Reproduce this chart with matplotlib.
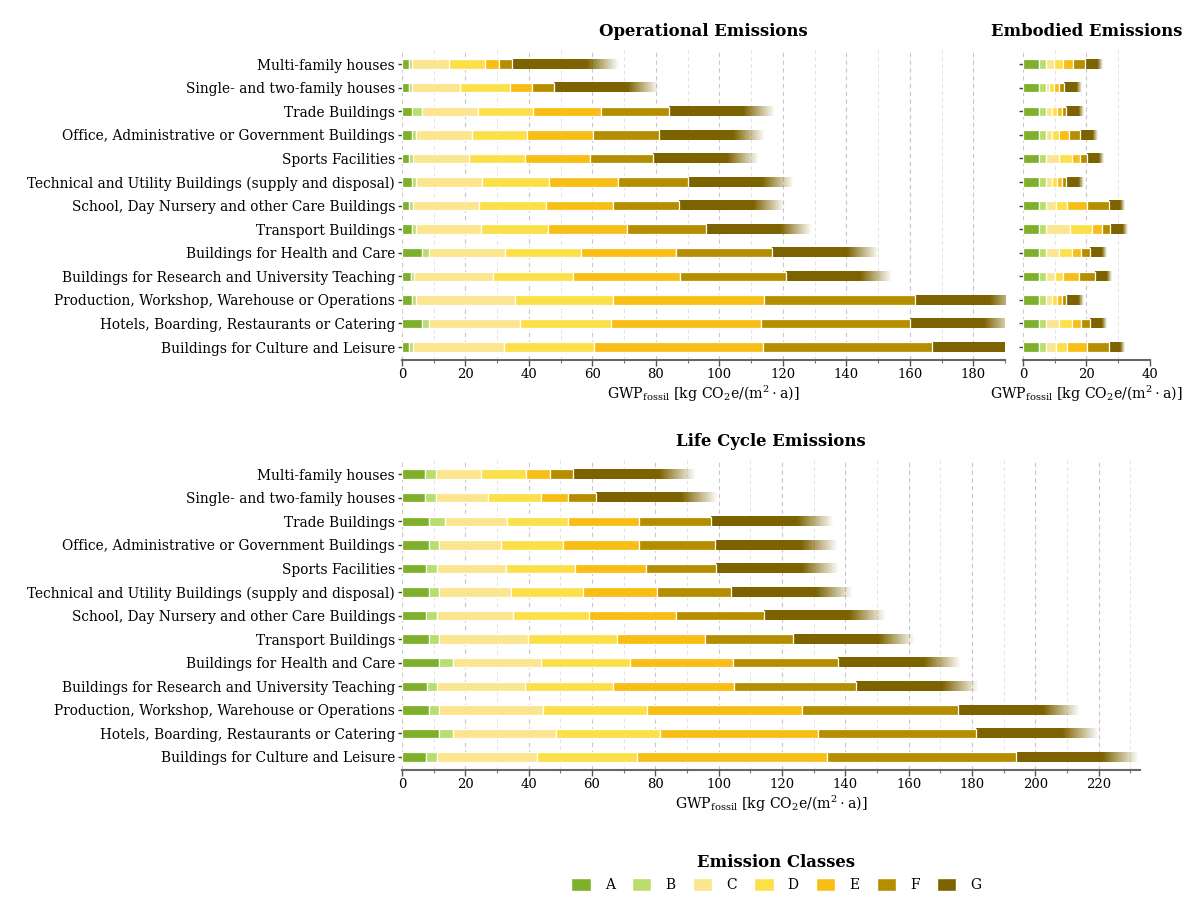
import numpy as np
import matplotlib
matplotlib.use('Agg')
import matplotlib.pyplot as plt
from matplotlib.patches import Patch
from matplotlib.colors import to_rgb

plt.rcParams['font.family'] = ['DejaVu Serif']
plt.rcParams['mathtext.fontset'] = 'dejavuserif'

buildings = [
    'Multi-family houses',
    'Single- and two-family houses',
    'Trade Buildings',
    'Office, Administrative or Government Buildings',
    'Sports Facilities',
    'Technical and Utility Buildings (supply and disposal)',
    'School, Day Nursery and other Care Buildings',
    'Transport Buildings',
    'Buildings for Health and Care',
    'Buildings for Research and University Teaching',
    'Production, Workshop, Warehouse or Operations',
    'Hotels, Boarding, Restaurants or Catering',
    'Buildings for Culture and Leisure',
]
classes = ['A', 'B', 'C', 'D', 'E', 'F', 'G']
colors = ['#7fb02c', '#b9dd6e', '#fbe58e', '#fce04a', '#f9be15', '#b58e00', '#7d6300']

# width of each class segment, one list per class (rows in order of buildings)
operational = [
    [2.1, 2.1, 3.1, 3.3, 2.3, 3.3, 2.3, 3.3, 6.4, 2.7, 3.3, 6.4, 2.3],
    [1.0, 1.0, 3.3, 1.1, 1.1, 1.1, 1.1, 1.1, 2.2, 1.2, 1.1, 2.2, 1.1],
    [11.6, 15.3, 17.4, 17.6, 17.8, 20.9, 21.0, 20.6, 23.8, 24.9, 31.1, 28.6, 28.6],
    [11.6, 15.5, 17.4, 17.4, 17.7, 21.0, 20.9, 21.0, 23.9, 25.1, 31.0, 28.7, 28.5],
    [4.3, 7.1, 21.4, 20.7, 20.2, 21.8, 21.1, 24.8, 30.1, 33.6, 47.6, 47.1, 53.4],
    [4.1, 7.0, 21.4, 20.8, 20.0, 22.0, 21.0, 25.0, 30.2, 33.6, 47.5, 47.1, 53.2],
    [33.4, 33.0, 33.2, 33.2, 33.2, 33.2, 33.2, 33.3, 33.5, 33.3, 33.4, 33.2, 33.7],
]
embodied = [
    [5.1, 5.1, 5.1, 5.1, 5.1, 5.1, 5.1, 5.1, 5.1, 5.1, 5.1, 5.1, 5.1],
    [2.1, 2.1, 2.1, 2.1, 2.1, 2.1, 2.1, 2.1, 2.1, 2.1, 2.1, 2.1, 2.1],
    [2.7, 1.1, 2.0, 2.0, 4.2, 2.0, 3.3, 7.6, 4.2, 2.8, 2.0, 4.2, 3.3],
    [2.7, 1.6, 1.6, 2.1, 4.0, 1.6, 3.4, 7.0, 4.0, 2.6, 1.6, 4.0, 3.4],
    [3.3, 1.5, 1.4, 3.2, 2.5, 1.4, 6.4, 3.0, 2.9, 4.9, 1.4, 2.9, 6.4],
    [3.5, 1.6, 1.5, 3.4, 2.3, 1.5, 6.7, 2.7, 2.9, 5.1, 1.5, 2.9, 6.7],
    [5.5, 5.4, 5.4, 5.4, 5.2, 5.4, 5.0, 5.4, 5.3, 5.1, 5.4, 5.3, 5.0],
]
life_cycle = [
    [7.3, 7.3, 8.5, 8.5, 7.6, 8.5, 7.6, 8.5, 11.6, 7.9, 8.5, 11.6, 7.6],
    [3.3, 3.3, 5.2, 3.3, 3.3, 3.3, 3.3, 3.3, 4.4, 3.3, 3.3, 4.4, 3.3],
    [14.2, 16.6, 19.4, 19.5, 22.0, 22.6, 24.0, 28.1, 28.0, 27.6, 32.8, 32.6, 31.7],
    [14.3, 16.6, 19.2, 19.6, 21.8, 22.9, 24.2, 28.1, 27.9, 27.7, 32.7, 32.8, 31.6],
    [7.6, 8.6, 22.6, 24.0, 22.2, 23.2, 27.5, 27.6, 32.6, 38.3, 49.0, 49.9, 59.9],
    [7.4, 8.8, 22.8, 24.0, 22.3, 23.3, 27.6, 27.8, 33.1, 38.4, 49.1, 49.8, 59.9],
    [38.8, 38.5, 38.6, 38.6, 38.7, 38.3, 38.5, 38.5, 38.7, 38.7, 38.5, 38.7, 38.8],
]

xlabel = r'GWP$_{\mathrm{fossil}}$ [kg CO$_2$e/(m$^2\cdot$a)]'
bar_h = 0.4


def fade_image(color):
    # solid for the first 70 %, then fades out to the right
    r, g, b = to_rgb(color)
    img = np.zeros((1, 200, 4))
    img[0, :, 0] = r
    img[0, :, 1] = g
    img[0, :, 2] = b
    img[0, :140, 3] = 1.0
    img[0, 140:, 3] = np.linspace(1, 0, 60)
    return img


def draw_panel(ax, values, xmax, title, show_labels=True):
    y = np.arange(len(buildings))
    left = np.zeros(len(buildings))
    for k in range(len(classes)):
        w = np.array(values[k])
        if classes[k] == 'G':
            img = fade_image(colors[k])
            for i in range(len(y)):
                ax.imshow(img, extent=(left[i], left[i] + w[i], y[i] + bar_h / 2, y[i] - bar_h / 2),
                          aspect='auto', interpolation='bilinear', zorder=2)
        else:
            ax.barh(y, w, left=left, height=bar_h, color=colors[k],
                    edgecolor='white', linewidth=0.9, zorder=3)
        left = left + w

    ax.set_xlim(0, xmax)
    ax.set_ylim(12.55, -0.6)
    ax.set_yticks(y)
    if show_labels:
        ax.set_yticklabels(buildings, fontsize=9.9)
    else:
        ax.set_yticklabels([])
    ax.xaxis.set_major_locator(plt.MultipleLocator(20))
    ax.xaxis.set_minor_locator(plt.MultipleLocator(10))
    ax.set_axisbelow(True)
    ax.grid(axis='x', which='major', color='#c8c8c8', linestyle=(0, (4, 3)), linewidth=0.8)
    ax.grid(axis='x', which='minor', color='#e4e4e4', linestyle=(0, (4, 3)), linewidth=0.7)
    for s in ['top', 'right', 'left']:
        ax.spines[s].set_visible(False)
    ax.spines['bottom'].set_color('#666666')
    ax.spines['bottom'].set_linewidth(1.5)
    ax.tick_params(axis='x', which='major', length=4, width=1, color='#555555', labelsize=9.5, pad=2)
    ax.tick_params(axis='x', which='minor', length=2.5, width=0.8, color='#777777')
    ax.tick_params(axis='y', length=3, width=1, color='#444444', pad=2)
    ax.set_xlabel(xlabel, fontsize=10.2, labelpad=2)
    ax.set_title(title, fontsize=11.9, fontweight='bold', pad=10)


fig = plt.figure(figsize=(12, 9.23), dpi=100)
ax_op = fig.add_axes([0.335, 0.6100, 0.5025, 0.3359])
ax_emb = fig.add_axes([0.8525, 0.6100, 0.1058, 0.3359])
ax_lc = fig.add_axes([0.335, 0.1658, 0.615, 0.3359])

draw_panel(ax_op, operational, 190, 'Operational Emissions')
draw_panel(ax_emb, embodied, 40, 'Embodied Emissions', show_labels=False)
draw_panel(ax_lc, life_cycle, 233, 'Life Cycle Emissions')

handles = [Patch(facecolor=c, edgecolor='white') for c in colors]
fig.legend(handles, classes, loc='center', bbox_to_anchor=(0.647, 0.054), ncol=7,
           frameon=False, title='Emission Classes',
           title_fontproperties={'weight': 'bold', 'size': 11.9},
           fontsize=10, handlelength=1.4, handleheight=1.0,
           handletextpad=1.0, columnspacing=1.25)

fig.savefig('out.png', dpi=100, facecolor='white')
